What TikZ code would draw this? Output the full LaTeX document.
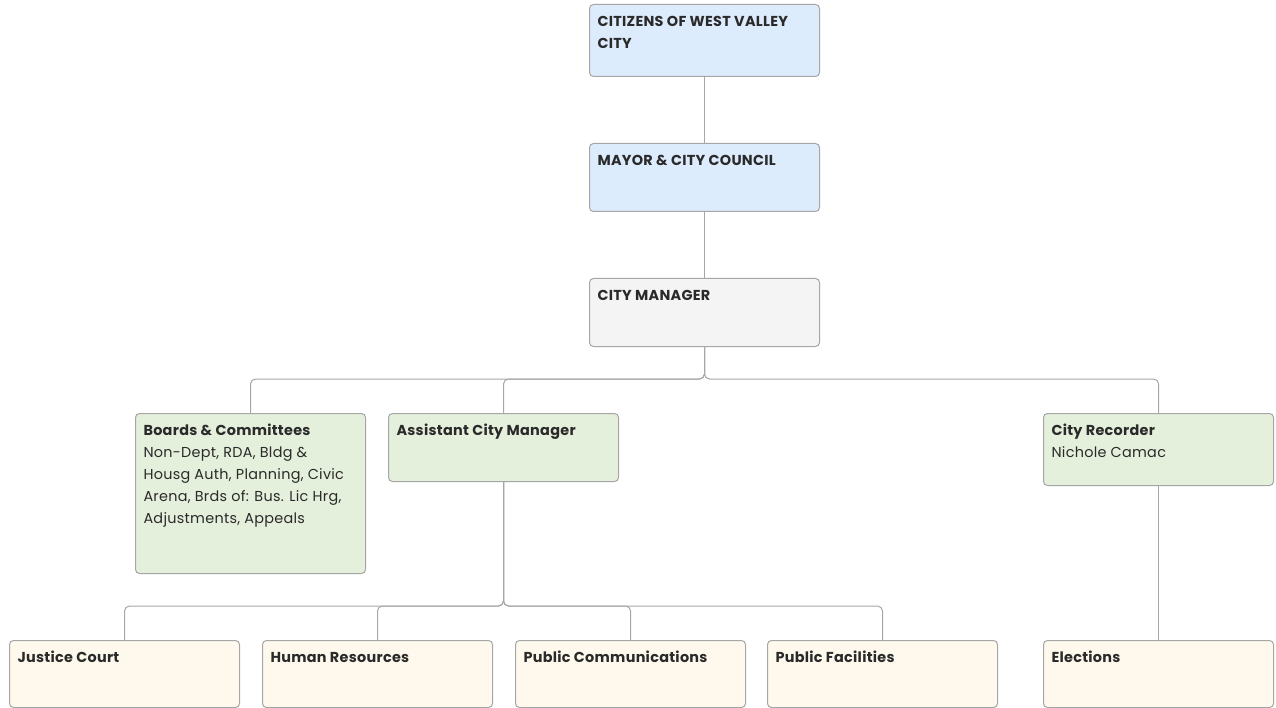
\documentclass[tikz,border=0pt]{standalone}
\usepackage{fontspec}
\setmainfont{Poppins}
\usetikzlibrary{positioning}
\definecolor{cblue}{RGB}{220,236,252}
\definecolor{cgray}{RGB}{244,244,244}
\definecolor{cgreen}{RGB}{229,240,220}
\definecolor{cyellow}{RGB}{254,249,236}
\definecolor{cline}{RGB}{166,166,166}
\definecolor{ctext}{RGB}{42,42,42}
\newcommand{\cellfont}{\fontsize{14.4}{22}\selectfont\addfontfeatures{LetterSpace=2}}
\newcommand{\cell}[2]{\parbox[c][#1pt][t]{214pt}{\cellfont\raggedright\rule{0pt}{22pt}#2}}
\newcommand{\head}[1]{\textbf{#1}}

\begin{document}
\begin{tikzpicture}[
  x=1pt, y=-1pt,
  every node/.style={text=ctext},
  unit/.style={draw=cline,line width=1pt,rounded corners=4pt,inner xsep=8pt,inner ysep=0pt,anchor=north west},
  link/.style={draw=cline,line width=1pt,rounded corners=5pt}
]
\useasboundingbox (0,0) rectangle (1276,708);

\node[unit,fill=cblue] (citizens) at (589,4) {\cell{72}{\head{CITIZENS OF WEST VALLEY\\ CITY}}};
\node[unit,fill=cblue] (mayor) at (589,143) {\cell{68}{\head{MAYOR \& CITY COUNCIL}}};
\node[unit,fill=cgray] (manager) at (589,278) {\cell{68}{\head{CITY MANAGER}}};

\node[unit,fill=cgreen] (boards) at (135,413) {\cell{160}{\head{Boards \& Committees}\\
  Non-Dept, RDA, Bldg \&\\ Housg Auth, Planning, Civic\\ Arena, Brds of: Bus. Lic Hrg,\\ Adjustments, Appeals}};
\node[unit,fill=cgreen] (assistant) at (388,413) {\cell{68}{\head{Assistant City Manager}}};
\node[unit,fill=cgreen] (recorder) at (1043,413) {\cell{72}{\head{City Recorder}\\ Nichole Camac}};

\node[unit,fill=cyellow] (court) at (9,640) {\cell{67}{\head{Justice Court}}};
\node[unit,fill=cyellow] (hr) at (262,640) {\cell{67}{\head{Human Resources}}};
\node[unit,fill=cyellow] (comms) at (515,640) {\cell{67}{\head{Public Communications}}};
\node[unit,fill=cyellow] (facilities) at (767,640) {\cell{67}{\head{Public Facilities}}};
\node[unit,fill=cyellow] (elections) at (1043,640) {\cell{67}{\head{Elections}}};

\coordinate (bus1) at (manager.south |- 0,379);
\coordinate (bus2) at (assistant.south |- 0,606);

\draw[link] (citizens.south) -- (mayor.north);
\draw[link] (mayor.south) -- (manager.north);
\draw[link] (manager.south) -- (bus1) -| (boards.north);
\draw[link] (manager.south) -- (bus1) -| (assistant.north);
\draw[link] (manager.south) -- (bus1) -| (recorder.north);
\draw[link] (assistant.south) -- (bus2) -| (court.north);
\draw[link] (assistant.south) -- (bus2) -| (hr.north);
\draw[link] (assistant.south) -- (bus2) -| (comms.north);
\draw[link] (assistant.south) -- (bus2) -| (facilities.north);
\draw[link] (recorder.south) -- (elections.north);

\end{tikzpicture}
\end{document}
